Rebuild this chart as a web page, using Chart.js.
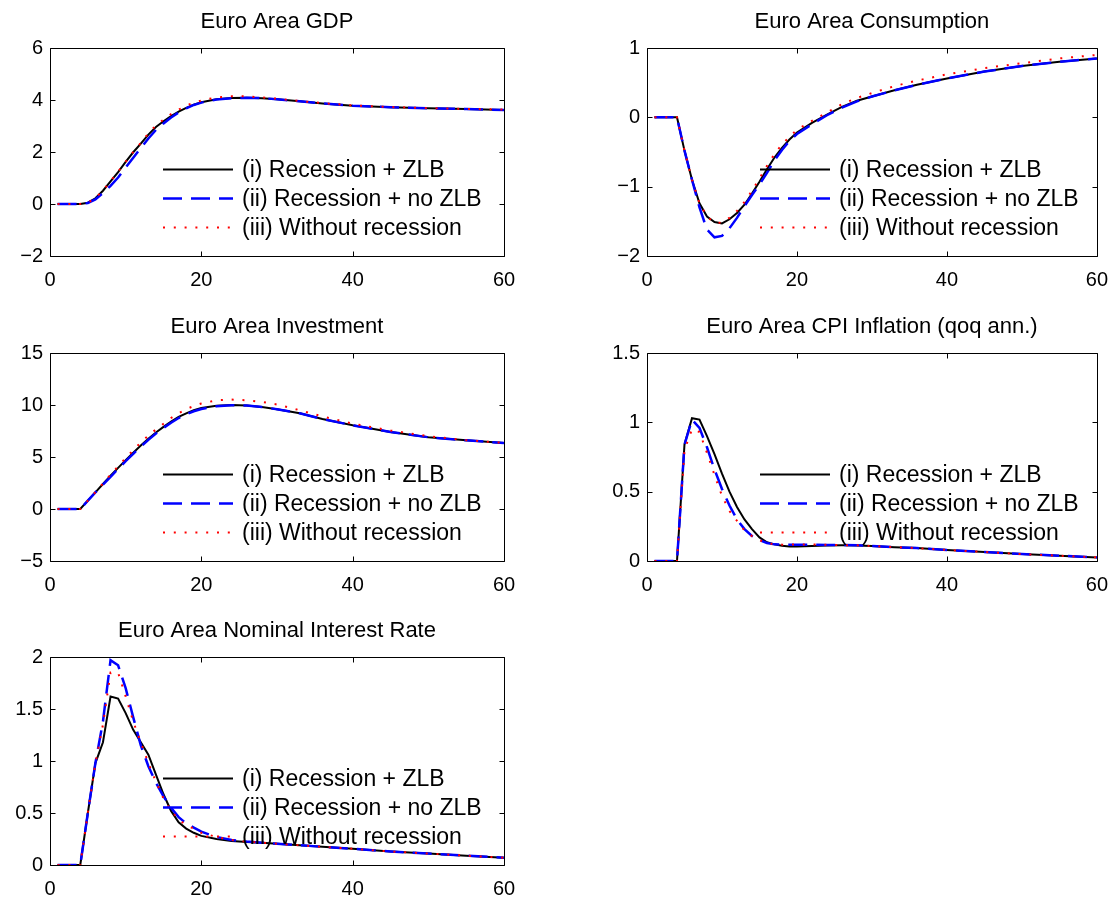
<!DOCTYPE html>
<html>
<head>
<meta charset="utf-8">
<title>Euro Area – recession / ZLB scenarios</title>
<script src="https://cdn.jsdelivr.net/npm/chart.js@4/dist/chart.umd.min.js"></script>
<style>
  html, body { margin:0; padding:0; background:#fff; overflow:hidden; }
  #wrap { position:relative; width:1120px; height:900px; }
  #wrap canvas { position:absolute; }
</style>
</head>
<body>
<div id="wrap">
  <canvas id="cGdp"  width="540" height="300" style="left:0;top:0"></canvas>
  <canvas id="cCons" width="523" height="300" style="left:597px;top:0"></canvas>
  <canvas id="cInv"  width="540" height="300" style="left:0;top:305px"></canvas>
  <canvas id="cCpi"  width="523" height="300" style="left:597px;top:305px"></canvas>
  <canvas id="cRate" width="540" height="300" style="left:0;top:609px"></canvas>
</div>
<script>
// ============================================================
//  data (quarters after the shock)
// ============================================================
const quarters = [1,2,3,4,5,6,7,8,9,10,11,12,13,14,15,16,17,18,19,20,22,24,26,28,30,33,36,40,45,50,55,60];
const legendLabels = ['(i) Recession + ZLB', '(ii) Recession + no ZLB', '(iii) Without recession'];
const xTicks = [0, 20, 40, 60];

const gdpZlb   = [0,0,0,0,0.05,0.22,0.51,0.87,1.23,1.62,1.99,2.32,2.67,2.96,3.18,3.38,3.55,3.70,3.82,3.91,4.03,4.08,4.09,4.07,4.03,3.95,3.87,3.78,3.72,3.68,3.65,3.62];
const gdpNoZlb = [0,0,0,0,0.04,0.18,0.42,0.70,1.02,1.40,1.78,2.15,2.52,2.85,3.10,3.33,3.52,3.68,3.81,3.90,4.02,4.07,4.09,4.07,4.03,3.95,3.87,3.78,3.72,3.68,3.65,3.62];
const gdpNoRec = [0,0,0,0,0.05,0.23,0.52,0.88,1.24,1.63,2.00,2.35,2.72,3.02,3.25,3.46,3.63,3.78,3.90,3.98,4.10,4.14,4.14,4.10,4.05,3.96,3.88,3.79,3.73,3.69,3.66,3.63];

const consZlb   = [0,0,0,0,-0.48,-0.90,-1.24,-1.43,-1.51,-1.53,-1.47,-1.38,-1.26,-1.10,-0.93,-0.75,-0.58,-0.44,-0.32,-0.22,-0.08,0.04,0.15,0.24,0.30,0.39,0.47,0.56,0.66,0.74,0.80,0.85];
const consNoZlb = [0,0,0,0,-0.48,-0.90,-1.30,-1.62,-1.73,-1.71,-1.60,-1.45,-1.28,-1.12,-0.97,-0.80,-0.62,-0.47,-0.34,-0.24,-0.10,0.03,0.14,0.23,0.30,0.39,0.47,0.56,0.66,0.74,0.80,0.85];
const consNoRec = [0,0,0,0,-0.48,-0.90,-1.24,-1.43,-1.52,-1.52,-1.45,-1.35,-1.22,-1.06,-0.88,-0.70,-0.53,-0.39,-0.28,-0.18,-0.05,0.07,0.19,0.28,0.35,0.45,0.53,0.62,0.71,0.78,0.85,0.90];

const invZlb   = [0,0,0,0,0.8,1.6,2.4,3.2,3.95,4.7,5.4,6.1,6.75,7.35,7.9,8.4,8.85,9.2,9.5,9.72,9.93,10.0,9.95,9.8,9.6,9.2,8.65,8.05,7.4,6.9,6.6,6.34];
const invNoZlb = [0,0,0,0,0.8,1.6,2.35,3.1,3.85,4.6,5.3,6.0,6.65,7.25,7.8,8.3,8.75,9.1,9.4,9.62,9.88,9.97,9.95,9.8,9.6,9.2,8.65,8.05,7.4,6.9,6.6,6.34];
const invNoRec = [0,0,0,0,0.8,1.62,2.45,3.3,4.1,4.9,5.65,6.4,7.05,7.65,8.2,8.75,9.2,9.6,9.9,10.15,10.45,10.52,10.45,10.3,10.05,9.5,8.9,8.2,7.55,7.0,6.62,6.36];

const cpiZlb   = [0,0,0,0,0.84,1.03,1.02,0.90,0.77,0.63,0.50,0.39,0.30,0.23,0.17,0.135,0.12,0.11,0.105,0.105,0.108,0.112,0.113,0.112,0.108,0.10,0.093,0.08,0.065,0.05,0.038,0.026];
const cpiNoZlb = [0,0,0,0,0.84,1.02,0.96,0.82,0.66,0.52,0.40,0.30,0.23,0.18,0.15,0.13,0.12,0.118,0.118,0.118,0.117,0.116,0.115,0.113,0.108,0.10,0.093,0.08,0.065,0.05,0.038,0.026];
const cpiNoRec = [0,0,0,0,0.80,0.95,0.93,0.78,0.62,0.47,0.36,0.29,0.22,0.18,0.15,0.13,0.12,0.118,0.118,0.12,0.119,0.117,0.115,0.113,0.108,0.10,0.093,0.08,0.065,0.05,0.038,0.026];

const rateZlb   = [0,0,0,0,0.50,0.98,1.18,1.62,1.60,1.46,1.30,1.18,1.06,0.87,0.68,0.52,0.41,0.35,0.31,0.28,0.25,0.23,0.22,0.215,0.205,0.19,0.175,0.156,0.13,0.11,0.09,0.07];
const rateNoZlb = [0,0,0,0,0.50,0.98,1.38,1.97,1.92,1.70,1.42,1.15,0.95,0.79,0.66,0.55,0.46,0.40,0.36,0.32,0.27,0.24,0.225,0.215,0.205,0.19,0.175,0.156,0.13,0.11,0.09,0.07];
const rateNoRec = [0,0,0,0,0.50,0.98,1.35,1.85,1.85,1.62,1.38,1.18,0.98,0.80,0.64,0.52,0.44,0.38,0.35,0.31,0.27,0.24,0.225,0.215,0.205,0.19,0.175,0.156,0.13,0.11,0.09,0.07];

// ============================================================
//  panels
// ============================================================
const panels = [
  { id:'cGdp',  title:'Euro Area GDP',                     series:[gdpZlb, gdpNoZlb, gdpNoRec],    yMin:-2, yMax:6,   yStep:2,   padR:36 },
  { id:'cCons', title:'Euro Area Consumption',             series:[consZlb, consNoZlb, consNoRec], yMin:-2, yMax:1,   yStep:1,   padR:19 },
  { id:'cInv',  title:'Euro Area Investment',              series:[invZlb, invNoZlb, invNoRec],    yMin:-5, yMax:15,  yStep:5,   padR:36 },
  { id:'cCpi',  title:'Euro Area CPI Inflation (qoq ann.)', series:[cpiZlb, cpiNoZlb, cpiNoRec],   yMin:0,  yMax:1.5, yStep:0.5, padR:19 },
  { id:'cRate', title:'Euro Area Nominal Interest Rate',   series:[rateZlb, rateNoZlb, rateNoRec], yMin:0,  yMax:2,   yStep:0.5, padR:36 }
];

const FONT = "'Liberation Sans', Arial, Helvetica, sans-serif";
const lineStyles = [
  { borderColor:'#000000', borderWidth:2,   borderDash:[],      order:3 },
  { borderColor:'#0000ff', borderWidth:2.5, borderDash:[19,9],  order:2 },
  { borderColor:'#ff0000', borderWidth:2,   borderDash:[2,8.8], order:1 }
];

// box with inward ticks on all four sides (matlab style)
const boxPlugin = {
  id: 'boxTicks',
  afterDatasetsDraw(chart) {
    const { ctx, chartArea: a, scales } = chart;
    const L = Math.round(a.left) + 0.5, R = Math.round(a.right) + 0.5;
    const T = Math.round(a.top) + 0.5,  B = Math.round(a.bottom) + 0.5;
    const tl = 5;
    ctx.save();
    ctx.strokeStyle = '#000';
    ctx.lineWidth = 1;
    ctx.beginPath();
    ctx.rect(L, T, R - L, B - T);
    scales.x.ticks.forEach(t => {
      const px = Math.round(scales.x.getPixelForValue(t.value)) + 0.5;
      ctx.moveTo(px, B); ctx.lineTo(px, B - tl);
      ctx.moveTo(px, T); ctx.lineTo(px, T + tl);
    });
    scales.y.ticks.forEach(t => {
      const py = Math.round(scales.y.getPixelForValue(t.value)) + 0.5;
      ctx.moveTo(L, py); ctx.lineTo(L + tl, py);
      ctx.moveTo(R, py); ctx.lineTo(R - tl, py);
    });
    ctx.stroke();
    ctx.restore();
  }
};

// legend drawn inside the axes, no frame
const inLegendPlugin = {
  id: 'inLegend',
  afterDraw(chart) {
    const { ctx, chartArea: a } = chart;
    ctx.save();
    ctx.font = `23px ${FONT}`;
    ctx.textBaseline = 'middle';
    ctx.fillStyle = '#000';
    chart.data.datasets.forEach((ds, i) => {
      const y = Math.round(a.top + 121 + 29 * i) + 0.5;
      const x0 = a.left + 113, x1 = a.left + 183;
      ctx.strokeStyle = ds.borderColor;
      ctx.lineWidth = ds.borderWidth;
      ctx.setLineDash(ds.borderDash);
      ctx.beginPath();
      ctx.moveTo(x0, y); ctx.lineTo(x1, y);
      ctx.stroke();
      ctx.setLineDash([]);
      ctx.fillText(ds.label, a.left + 192, y + 1);
    });
    ctx.restore();
  }
};

const fmtTick = v => v < 0 ? '\u2212' + Math.abs(v) : String(v);

panels.forEach(p => {
  const datasets = p.series.map((vals, i) => ({
    label: legendLabels[i],
    data: quarters.map((q, k) => ({ x: q, y: vals[k] })),
    ...lineStyles[i],
    pointRadius: 0,
    tension: 0,
    fill: false
  }));

  new Chart(document.getElementById(p.id), {
    type: 'line',
    data: { datasets },
    plugins: [boxPlugin, inLegendPlugin],
    options: {
      responsive: false,
      animation: false,
      layout: { padding: { left:0, top:0, right:p.padR, bottom:0 } },
      plugins: {
        legend: { display:false },
        tooltip: { enabled:false },
        title: {
          display: true, text: p.title, fullSize: false, color: '#000',
          font: { family: FONT, size: 22, weight: 'normal', lineHeight: 1.2 },
          padding: { top: 9, bottom: 12.6 }
        }
      },
      scales: {
        x: {
          type: 'linear', min: 0, max: 60,
          afterBuildTicks: s => { s.ticks = xTicks.map(v => ({ value: v })); },
          afterFit: s => { s.height = 44; },
          grid: { display:false, drawTicks:false },
          border: { display:false },
          ticks: { color:'#000', padding: 12, maxRotation: 0, font: { family: FONT, size: 20 } }
        },
        y: {
          min: p.yMin, max: p.yMax,
          afterFit: s => { s.width = 50; },
          grid: { display:false, drawTicks:false },
          border: { display:false },
          ticks: { color:'#000', padding: 7, stepSize: p.yStep, callback: fmtTick, font: { family: FONT, size: 20 } }
        }
      }
    }
  });
});
</script>
</body>
</html>
